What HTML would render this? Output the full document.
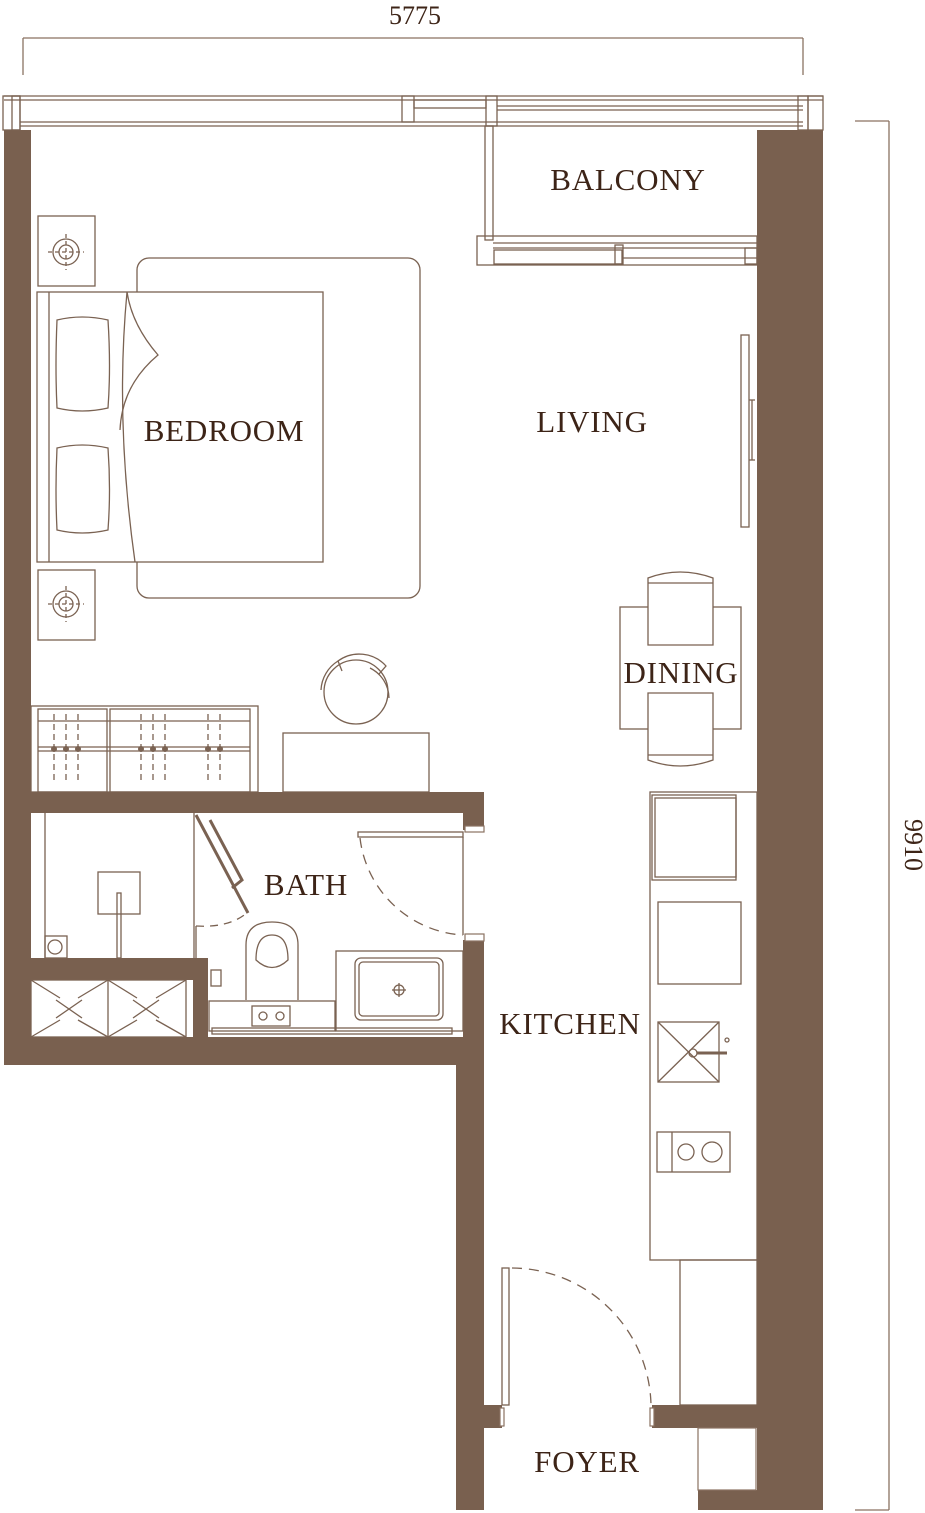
<!DOCTYPE html>
<html><head><meta charset="utf-8"><style>
html,body{margin:0;padding:0;background:#fff}
svg{display:block}
text{font-family:"Liberation Serif",serif;fill:#3d2417}
</style></head><body>
<svg width="925" height="1513" viewBox="0 0 925 1513" xmlns="http://www.w3.org/2000/svg">
<g fill="none" stroke="#8a7262" stroke-width="1.3">
<line x1="23" y1="38" x2="803" y2="38"/><line x1="23" y1="38" x2="23" y2="75"/><line x1="803" y1="38" x2="803" y2="75"/>
<line x1="889" y1="121" x2="889" y2="1510"/><line x1="855" y1="121" x2="889" y2="121"/><line x1="855" y1="1510" x2="889" y2="1510"/>
</g>
<text x="415" y="24" font-size="26" text-anchor="middle">5775</text>
<text x="0" y="0" font-size="26" text-anchor="middle" transform="translate(905,845) rotate(90)">9910</text>

<g fill="#79604f">
<rect x="4" y="130" width="27" height="935"/>
<rect x="757" y="130" width="66" height="1380"/>
<rect x="31" y="792" width="453" height="21"/>
<rect x="463" y="813" width="21" height="17"/>
<rect x="463" y="940" width="21" height="125"/>
<rect x="4" y="1037" width="479" height="28"/>
<rect x="456" y="1037" width="28" height="473"/>
<rect x="31" y="958" width="177" height="22"/>
<rect x="193" y="958" width="15" height="80"/>
<rect x="484" y="1405" width="18" height="23"/>
<rect x="652" y="1405" width="105" height="23"/>
<rect x="698" y="1490" width="60" height="20"/>
</g>
<g fill="#fff" stroke="#8a7262" stroke-width="1.2">
<rect x="698" y="1428" width="58" height="62"/>
<rect x="500" y="1408" width="4" height="18"/>
<rect x="650" y="1408" width="4" height="18"/>
<rect x="465" y="826" width="19" height="6"/>
<rect x="465" y="934" width="19" height="7"/>
</g>

<g fill="none" stroke="#7a6252" stroke-width="1.3">
<line x1="4" y1="96" x2="823" y2="96"/><line x1="4" y1="100" x2="823" y2="100"/>
<line x1="20" y1="122" x2="803" y2="122"/><line x1="20" y1="126" x2="803" y2="126"/>
<rect x="3" y="96" width="17" height="34"/><rect x="12" y="96" width="8" height="34"/>
<rect x="402" y="96" width="12" height="26"/><rect x="414" y="100" width="72" height="8"/>
<rect x="486" y="96" width="11" height="30"/>
<line x1="497" y1="106" x2="803" y2="106"/><line x1="497" y1="110" x2="803" y2="110"/>
<rect x="798" y="96" width="10" height="34"/><rect x="808" y="96" width="15" height="34"/>
<rect x="485" y="126" width="8" height="114"/>
<rect x="477" y="236" width="280" height="29"/>
<line x1="493" y1="243" x2="757" y2="243"/><line x1="493" y1="248" x2="757" y2="248"/>
<rect x="494" y="250" width="128" height="14"/><rect x="615" y="245" width="8" height="19"/>
<line x1="623" y1="258" x2="757" y2="258"/>
<rect x="745" y="248" width="12" height="16"/>
<rect x="38" y="216" width="57" height="70"/><rect x="38" y="570" width="57" height="70"/>
<circle cx="66" cy="252" r="13"/><circle cx="66" cy="252" r="7"/>
<line x1="48" y1="252" x2="84" y2="252" stroke-dasharray="4 3"/><line x1="66" y1="234" x2="66" y2="270" stroke-dasharray="4 3"/>
<circle cx="66" cy="604" r="13"/><circle cx="66" cy="604" r="7"/>
<line x1="48" y1="604" x2="84" y2="604" stroke-dasharray="4 3"/><line x1="66" y1="586" x2="66" y2="622" stroke-dasharray="4 3"/>
<rect x="137" y="258" width="283" height="340" rx="12"/>
<rect x="37" y="292" width="286" height="270" fill="#fff"/>
<line x1="49" y1="292" x2="49" y2="562"/>
<path d="M57,320 Q82,314 108,320 Q111,367 108,408 Q82,414 57,408 Q55,367 57,320Z"/>
<path d="M57,448 Q82,442 108,448 Q111,490 108,530 Q82,536 57,530 Q55,490 57,448Z"/>
<path d="M127,292 Q115,420 135,562"/>
<path d="M127,292 Q132,325 158,355 Q122,385 120,430"/>
<rect x="31" y="706" width="227" height="86"/>
<rect x="38" y="709" width="69" height="83"/><rect x="110" y="709" width="140" height="83"/>
<line x1="38" y1="721" x2="250" y2="721"/><line x1="38" y1="747" x2="250" y2="747"/><line x1="38" y1="751" x2="250" y2="751"/>
<g stroke-dasharray="6 4"><line x1="54" y1="714" x2="54" y2="780"/><line x1="66" y1="714" x2="66" y2="780"/><line x1="78" y1="714" x2="78" y2="780"/>
<line x1="141" y1="714" x2="141" y2="780"/><line x1="153" y1="714" x2="153" y2="780"/><line x1="165" y1="714" x2="165" y2="780"/>
<line x1="208" y1="714" x2="208" y2="780"/><line x1="220" y1="714" x2="220" y2="780"/></g>
<g fill="#7a6252" stroke="none"><circle cx="54" cy="749" r="3"/><circle cx="66" cy="749" r="3"/><circle cx="78" cy="749" r="3"/><circle cx="141" cy="749" r="3"/><circle cx="153" cy="749" r="3"/><circle cx="165" cy="749" r="3"/><circle cx="208" cy="749" r="3"/><circle cx="220" cy="749" r="3"/></g>
<rect x="283" y="733" width="146" height="59"/>
<circle cx="356" cy="692" r="32"/>
<path d="M321,690 A36,36 0 0 1 338,661 L342,671 M370,668 A34,34 0 0 1 389,698" />
<path d="M338,661 A36,36 0 0 1 386,666 L379,674"/>
<rect x="741" y="335" width="8" height="192"/><line x1="749" y1="400" x2="755" y2="400"/><line x1="749" y1="460" x2="755" y2="460"/><line x1="752" y1="400" x2="752" y2="460"/>
<rect x="620" y="607" width="121" height="122"/>
<path d="M648,578 Q680,566 713,578 L713,645 L648,645Z" fill="#fff"/>
<line x1="648" y1="583" x2="713" y2="583"/>
<path d="M648,693 L713,693 L713,760 Q680,772 648,760Z" fill="#fff"/>
<line x1="648" y1="755" x2="713" y2="755"/>
<rect x="650" y="792" width="107" height="468"/>
<rect x="652" y="795" width="84" height="85"/><rect x="655" y="798" width="81" height="79"/>
<rect x="658" y="902" width="83" height="82"/>
<rect x="658" y="1022" width="61" height="60"/>
<line x1="658" y1="1022" x2="719" y2="1082"/><line x1="719" y1="1022" x2="658" y2="1082"/>
<circle cx="693" cy="1053" r="4"/><line x1="697" y1="1053" x2="727" y2="1053" stroke-width="3"/><circle cx="727" cy="1040" r="2"/>
<rect x="657" y="1132" width="73" height="40"/><line x1="672" y1="1132" x2="672" y2="1172"/>
<circle cx="686" cy="1152" r="8"/><circle cx="712" cy="1152" r="10"/>
<rect x="680" y="1260" width="77" height="145"/>
<rect x="502" y="1268" width="7" height="137"/>
<path d="M512,1268 A140,140 0 0 1 651,1405" stroke-dasharray="10 7"/>
<line x1="194" y1="813" x2="194" y2="958"/>
<line x1="45" y1="813" x2="45" y2="958"/>
<rect x="98" y="872" width="42" height="42"/><rect x="117" y="893" width="4" height="65"/>
<rect x="45" y="936" width="22" height="22"/><circle cx="55" cy="947" r="7"/>
<rect x="31" y="980" width="155" height="57" fill="#fff"/>
<line x1="108" y1="980" x2="108" y2="1037"/>
<path d="M31,980 L60,998 M60,1020 L31,1037 M108,980 L78,998 M78,1020 L108,1037 M56,1000 L82,1018 M82,1000 L56,1018"/>
<path d="M108,980 L137,998 M137,1020 L108,1037 M186,980 L156,998 M156,1020 L186,1037 M133,1000 L159,1018 M159,1000 L133,1018"/>
<path d="M196,815 L248,913 M210,820 L242,880 L232,888" stroke-width="3"/>
<path d="M196,926 Q230,928 248,912" stroke-dasharray="8 6"/>
<line x1="196" y1="926" x2="196" y2="958"/>
<rect x="358" y="832" width="105" height="5"/>
<path d="M360,838 A110,110 0 0 0 463,935" stroke-dasharray="10 7"/>
<line x1="463" y1="837" x2="463" y2="935"/>
<path d="M246,1000 L246,945 Q246,922 272,922 Q298,922 298,945 L298,1000" />
<path d="M256,960 Q256,935 272,935 Q288,935 288,960 Q272,975 256,960Z"/>
<rect x="209" y="1001" width="126" height="30"/><rect x="252" y="1006" width="38" height="20"/>
<circle cx="263" cy="1016" r="4"/><circle cx="280" cy="1016" r="4"/>
<rect x="336" y="951" width="127" height="80"/>
<rect x="355" y="958" width="88" height="62" rx="6"/><rect x="359" y="962" width="80" height="54" rx="4"/>
<circle cx="399" cy="990" r="5"/><line x1="392" y1="990" x2="406" y2="990"/><line x1="399" y1="983" x2="399" y2="997"/>
<rect x="212" y="1028" width="240" height="6"/>
<rect x="211" y="970" width="10" height="16"/>
</g>

<g font-size="31" letter-spacing="0.8">
<text x="628" y="190" text-anchor="middle">BALCONY</text>
<text x="224" y="441" text-anchor="middle">BEDROOM</text>
<text x="592" y="432" text-anchor="middle">LIVING</text>
<text x="681" y="683" text-anchor="middle">DINING</text>
<text x="306" y="895" text-anchor="middle">BATH</text>
<text x="570" y="1034" text-anchor="middle">KITCHEN</text>
<text x="587" y="1472" text-anchor="middle">FOYER</text>
</g>
</svg>
</body></html>
